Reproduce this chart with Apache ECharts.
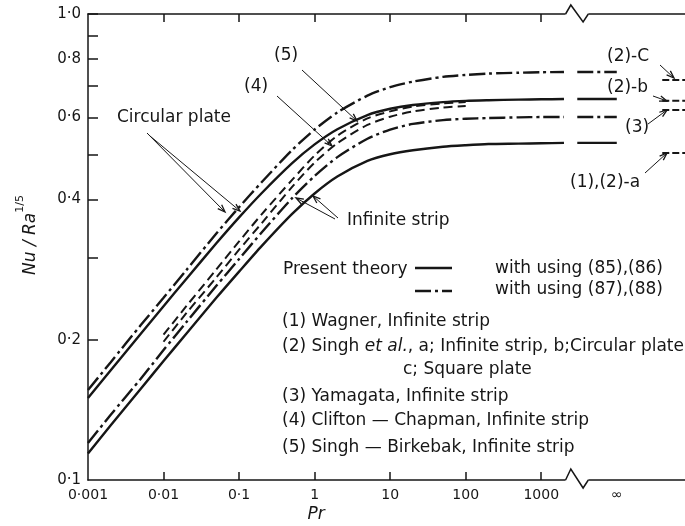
<!DOCTYPE html>
<html>
<head>
<meta charset="utf-8">
<script src="https://cdn.jsdelivr.net/npm/echarts@6/dist/echarts.min.js"></script>
<style>
  html, body { margin: 0; padding: 0; background: #fff; }
  #chart { width: 685px; height: 526px; }
</style>
</head>
<body>
<div id="chart"></div>
<script>
// Pr sample points for the present-theory curves
var prValues = [0.001, 0.002, 0.005, 0.01, 0.02, 0.05, 0.1, 0.2, 0.5, 1, 2, 5, 10, 20, 50, 100, 200, 500, 1000, 2000];
// Nu/Ra^1/5, circular plate, eqs (87),(88)  (dash-dot)
var circular8788 = [0.156, 0.179, 0.215, 0.246, 0.282, 0.338, 0.385, 0.436, 0.510, 0.565, 0.615, 0.668, 0.697, 0.716, 0.733, 0.740, 0.745, 0.748, 0.750, 0.751];
// circular plate, eqs (85),(86)  (solid)
var circular8586 = [0.150, 0.172, 0.206, 0.236, 0.270, 0.322, 0.366, 0.413, 0.478, 0.525, 0.566, 0.607, 0.626, 0.638, 0.647, 0.651, 0.653, 0.655, 0.656, 0.657];
// infinite strip, eqs (87),(88)  (dash-dot)
var strip8788 = [0.120, 0.138, 0.165, 0.190, 0.218, 0.261, 0.298, 0.340, 0.402, 0.449, 0.493, 0.540, 0.565, 0.581, 0.592, 0.596, 0.598, 0.600, 0.601, 0.601];
// infinite strip, eqs (85),(86)  (solid)
var strip8586 = [0.114, 0.131, 0.157, 0.180, 0.206, 0.246, 0.280, 0.318, 0.372, 0.412, 0.448, 0.484, 0.500, 0.510, 0.519, 0.523, 0.526, 0.527, 0.528, 0.529];

// other authors (dashed)
var prDashed = [0.01, 0.02, 0.05, 0.1, 0.2, 0.5, 1, 2, 5, 10, 20, 50, 100];
var singhBirkebak = [0.205, 0.236, 0.283, 0.325, 0.372, 0.440, 0.497, 0.548, 0.597, 0.618, 0.633, 0.643, 0.647];
var cliftonChapman = [0.198, 0.228, 0.272, 0.312, 0.356, 0.425, 0.480, 0.528, 0.578, 0.602, 0.618, 0.630, 0.635];

// values at Pr = infinity
var prInfTheory = [3000, 10000];
var infTheory = [0.751, 0.657, 0.601, 0.529];      // same order as the four curves above
var prInfOthers = [40000, 80000];
var infOthers = [0.722, 0.651, 0.622, 0.503];      // (2)-c, (2)-b, (3), (1),(2)-a

// ticks and labels
var xTickValues = [0.01, 0.1, 1, 10, 100, 1000];
var xLabelValues = [0.001, 0.01, 0.1, 1, 10, 100, 1000, 10000];
var xLabelTexts = ['0·001', '0·01', '0·1', '1', '10', '100', '1000', '∞'];
var yTickValues = [0.2, 0.3, 0.4, 0.5, 0.6, 0.7, 0.8, 0.9, 1.0];
var yLabelValues = [0.1, 0.2, 0.4, 0.6, 0.8, 1.0];
var yLabelTexts = ['0·1', '0·2', '0·4', '0·6', '0·8', '1·0'];

var ink = '#161616';
var font = 'DejaVu Sans';
var solid = { color: ink, width: 2.4, type: 'solid' };
var dashDot = { color: ink, width: 2.4, type: [16, 4, 3, 4] };
var dashed = { color: ink, width: 2, type: [9, 5] };

function pts(xs, ys) {
  return xs.map(function (x, i) { return [x, ys[i]]; });
}
function pickLabel(values, texts) {
  return function (v) {
    for (var i = 0; i < values.length; i++) {
      if (Math.abs(v - values[i]) < values[i] * 1e-6) return texts[i];
    }
    return '';
  };
}
function curve(name, data, style, smooth) {
  return {
    name: name, type: 'line', data: data, symbol: 'none', showSymbol: false,
    smooth: smooth ? 0.25 : false, lineStyle: style, silent: true
  };
}

var series = [
  curve('circular (87),(88)', pts(prValues, circular8788), dashDot, true),
  curve('circular (85),(86)', pts(prValues, circular8586), solid, true),
  curve('strip (87),(88)', pts(prValues, strip8788), dashDot, true),
  curve('strip (85),(86)', pts(prValues, strip8586), solid, true),
  curve('(5) Singh-Birkebak', pts(prDashed, singhBirkebak), dashed, true),
  curve('(4) Clifton-Chapman', pts(prDashed, cliftonChapman), dashed, true)
];
infTheory.forEach(function (v, i) {
  series.push(curve('inf ' + i, [[prInfTheory[0], v], [prInfTheory[1], v]], i % 2 ? solid : dashDot, false));
});
infOthers.forEach(function (v, i) {
  series.push(curve('inf other ' + i, [[prInfOthers[0], v], [prInfOthers[1], v]], { color: ink, width: 2, type: [7, 3] }, false));
});

function xAxisDef(pos, showLabel) {
  return {
    type: 'log', logBase: 10, min: 0.001, max: 80000, position: pos,
    axisLine: { lineStyle: { color: ink, width: 1.5 } },
    axisTick: { inside: true, length: 8, customValues: xTickValues, lineStyle: { color: ink, width: 1.5 } },
    axisLabel: {
      show: showLabel, customValues: xLabelValues, formatter: pickLabel(xLabelValues, xLabelTexts),
      color: ink, fontSize: 14, fontFamily: font, margin: 8
    },
    splitLine: { show: false }
  };
}

var option = {
  animation: false,
  backgroundColor: '#fff',
  grid: { left: 88, right: 0, top: 14, bottom: 46 },
  xAxis: [xAxisDef('bottom', true), xAxisDef('top', false)],
  yAxis: {
    type: 'log', logBase: 10, min: 0.1, max: 1,
    axisLine: { lineStyle: { color: ink, width: 1.5 } },
    axisTick: { inside: true, length: 10, customValues: yTickValues, lineStyle: { color: ink, width: 1.5 } },
    axisLabel: {
      customValues: yLabelValues, formatter: pickLabel(yLabelValues, yLabelTexts),
      color: ink, fontSize: 15, fontFamily: font, margin: 7
    },
    splitLine: { show: false }
  },
  series: series
};
var chart = echarts.init(document.getElementById('chart'));
chart.setOption(option);

/* annotations */
function txt(s, x, y, extra) {
  var st = { text: s, x: 0, y: 0, fill: ink, font: '17px "' + font + '"', fontSize: 17, fontFamily: font, verticalAlign: 'middle', align: 'left' };
  if (extra) for (var k in extra) st[k] = extra[k];
  return { type: 'text', x: x, y: y, z: 100, style: st };
}
function seg(x1, y1, x2, y2, w, dash) {
  return { type: 'line', z: 100, shape: { x1: x1, y1: y1, x2: x2, y2: y2 }, style: { stroke: ink, lineWidth: w || 1, lineDash: dash || null } };
}
function arrow(x1, y1, x2, y2) {
  var a = Math.atan2(y2 - y1, x2 - x1), h = 8, w = 0.35;
  return [
    seg(x1, y1, x2, y2, 1),
    { type: 'polyline', z: 100, shape: { points: [
      [x2 - h * Math.cos(a - w), y2 - h * Math.sin(a - w)], [x2, y2],
      [x2 - h * Math.cos(a + w), y2 - h * Math.sin(a + w)]] },
      style: { stroke: ink, lineWidth: 1.3, fill: null } }
  ];
}
function zigzag(y0, up, down) {
  var xa = chart.convertToPixel({ xAxisIndex: 0 }, 2100);
  var xb = chart.convertToPixel({ xAxisIndex: 0 }, 4200);
  var w = xb - xa;
  return [
    { type: 'rect', z: 99, shape: { x: xa, y: y0 - 3, width: w, height: 6 }, style: { fill: '#fff' } },
    { type: 'polyline', z: 100, shape: { points: [[xa, y0], [xa + w * 0.23, y0 - up], [xa + w * 0.77, y0 + down], [xb, y0]] },
      style: { stroke: ink, lineWidth: 1.5, fill: null } }
  ];
}

var yTop = chart.convertToPixel({ yAxisIndex: 0 }, 1);
var yBot = chart.convertToPixel({ yAxisIndex: 0 }, 0.1);

var els = [].concat(
  zigzag(yTop, 9, 8),
  zigzag(yBot, 11, 8),
  txt('Circular plate', 117, 118),
  arrow(147, 133, 225, 212),
  arrow(150, 136, 240, 211),
  txt('(5)', 274, 56),
  arrow(302, 70, 357, 121),
  txt('(4)', 244, 87),
  arrow(277, 96, 332, 146),
  txt('Infinite strip', 347, 221),
  arrow(335, 219, 296, 198),
  arrow(338, 218, 313, 196),
  txt('(2)-C', 607, 57),
  arrow(660, 65, 674, 78),
  txt('(2)-b', 607, 88),
  arrow(653, 96, 667, 101),
  txt('(3)', 625, 128),
  arrow(648, 124, 667, 110),
  txt('(1),(2)-a', 570, 183),
  arrow(645, 173, 667, 153),
  txt('Present theory', 283, 270),
  seg(415, 268, 452, 268, 2.4),
  txt('with using (85),(86)', 495, 269),
  seg(415, 291, 452, 291, 2.4, [16, 4, 3, 4]),
  txt('with using (87),(88)', 495, 290),
  txt('(1) Wagner, Infinite strip', 282, 322),
  txt('(2) Singh {i|et al.}, a; Infinite strip, b;Circular plate', 282, 347,
      { rich: { i: { fontStyle: 'italic', fontSize: 17, fontFamily: font, fill: ink } } }),
  txt('c; Square plate', 403, 370),
  txt('(3) Yamagata, Infinite strip', 282, 397),
  txt('(4) Clifton — Chapman, Infinite strip', 282, 421),
  txt('(5) Singh — Birkebak, Infinite strip', 282, 448),
  txt('{a|Nu / Ra}{b|1/5}', 27, 235, {
    align: 'center',
    rich: {
      a: { fontStyle: 'italic', fontSize: 17, fontFamily: font, fill: ink, lineHeight: 24, verticalAlign: 'bottom' },
      b: { fontSize: 11, fontFamily: font, fill: ink, verticalAlign: 'top' }
    }
  }),
  txt('Pr', 316, 515, { align: 'center', fontStyle: 'italic', font: 'italic 17px "' + font + '"' })
);
// rotate the y title
els[els.length - 2].rotation = Math.PI / 2;

chart.setOption({ graphic: { elements: els } });
</script>
</body>
</html>
